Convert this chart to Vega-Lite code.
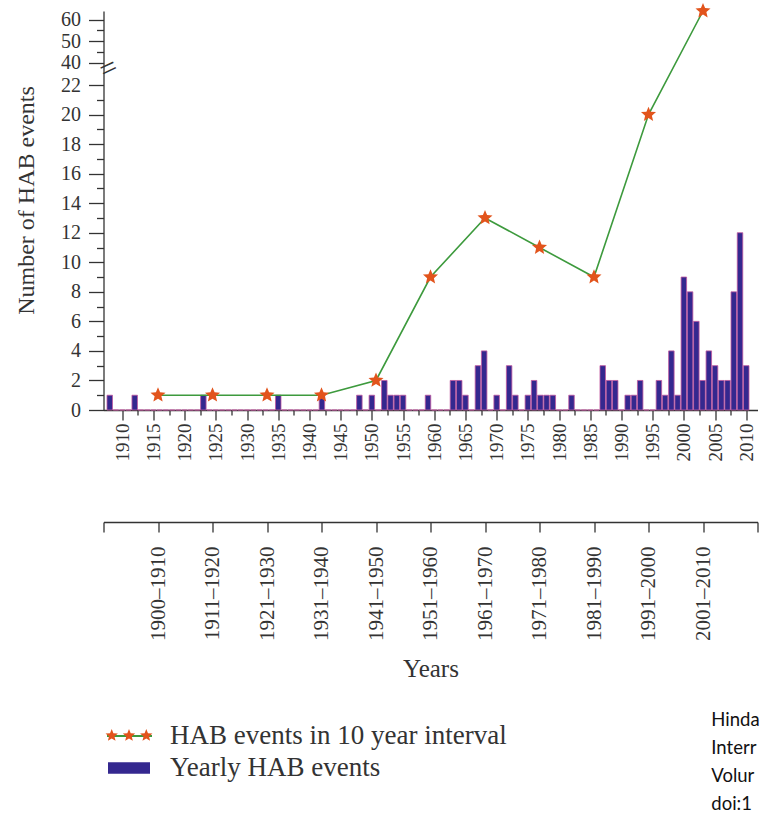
{
  "$schema": "https://vega.github.io/schema/vega-lite/v6.json",
  "width": 654,
  "height": 399,
  "autosize": "none",
  "padding": {"left": 103.5, "top": 11, "right": 2.5, "bottom": 403},
  "config": {
    "view": {"stroke": null},
    "font": "Liberation Serif",
    "axis": {"labelFont": "Liberation Serif", "titleFont": "Liberation Serif", "labelColor": "#333", "titleColor": "#333", "domainColor": "#333", "tickColor": "#333", "domainWidth": 1.3, "tickWidth": 1.3, "grid": false, "titleFontWeight": "normal", "labelOverlap": false, "labelFlush": false},
    "legend": {"labelFont": "Liberation Serif", "labelFontSize": 27, "labelColor": "#333", "labelLimit": 0, "title": null}
  },
  "datasets": {
    "yearly": [
      {"year":1908,"count":1},{"year":1909,"count":0},{"year":1910,"count":0},{"year":1911,"count":0},{"year":1912,"count":1},{"year":1913,"count":0},{"year":1914,"count":0},{"year":1915,"count":0},{"year":1916,"count":0},{"year":1917,"count":0},{"year":1918,"count":0},{"year":1919,"count":0},{"year":1920,"count":0},{"year":1921,"count":0},{"year":1922,"count":0},{"year":1923,"count":1},{"year":1924,"count":0},{"year":1925,"count":0},{"year":1926,"count":0},{"year":1927,"count":0},{"year":1928,"count":0},{"year":1929,"count":0},{"year":1930,"count":0},{"year":1931,"count":0},{"year":1932,"count":0},{"year":1933,"count":0},{"year":1934,"count":0},{"year":1935,"count":1},{"year":1936,"count":0},{"year":1937,"count":0},{"year":1938,"count":0},{"year":1939,"count":0},{"year":1940,"count":0},{"year":1941,"count":0},{"year":1942,"count":1},{"year":1943,"count":0},{"year":1944,"count":0},{"year":1945,"count":0},{"year":1946,"count":0},{"year":1947,"count":0},{"year":1948,"count":1},{"year":1949,"count":0},{"year":1950,"count":1},{"year":1951,"count":0},{"year":1952,"count":2},{"year":1953,"count":1},{"year":1954,"count":1},{"year":1955,"count":1},{"year":1956,"count":0},{"year":1957,"count":0},{"year":1958,"count":0},{"year":1959,"count":1},{"year":1960,"count":0},{"year":1961,"count":0},{"year":1962,"count":0},{"year":1963,"count":2},{"year":1964,"count":2},{"year":1965,"count":1},{"year":1966,"count":0},{"year":1967,"count":3},{"year":1968,"count":4},{"year":1969,"count":0},{"year":1970,"count":1},{"year":1971,"count":0},{"year":1972,"count":3},{"year":1973,"count":1},{"year":1974,"count":0},{"year":1975,"count":1},{"year":1976,"count":2},{"year":1977,"count":1},{"year":1978,"count":1},{"year":1979,"count":1},{"year":1980,"count":0},{"year":1981,"count":0},{"year":1982,"count":1},{"year":1983,"count":0},{"year":1984,"count":0},{"year":1985,"count":0},{"year":1986,"count":0},{"year":1987,"count":3},{"year":1988,"count":2},{"year":1989,"count":2},{"year":1990,"count":0},{"year":1991,"count":1},{"year":1992,"count":1},{"year":1993,"count":2},{"year":1994,"count":0},{"year":1995,"count":0},{"year":1996,"count":2},{"year":1997,"count":1},{"year":1998,"count":4},{"year":1999,"count":1},{"year":2000,"count":9},{"year":2001,"count":8},{"year":2002,"count":6},{"year":2003,"count":2},{"year":2004,"count":4},{"year":2005,"count":3},{"year":2006,"count":2},{"year":2007,"count":2},{"year":2008,"count":8},{"year":2009,"count":12},{"year":2010,"count":3}
    ],
    "decadal": [
      {"decade":"1900–1910","count":1},{"decade":"1911–1920","count":1},{"decade":"1921–1930","count":1},{"decade":"1931–1940","count":1},{"decade":"1941–1950","count":2},{"decade":"1951–1960","count":9},{"decade":"1961–1970","count":13},{"decade":"1971–1980","count":11},{"decade":"1981–1990","count":9},{"decade":"1991–2000","count":20},{"decade":"2001–2010","count":64}
    ]
  },
  "layer": [
    {
      "layer": [
        {
          "data": {"name": "yearly"},
          "mark": {"type": "bar", "width": 5.5, "stroke": "#c0589f", "strokeWidth": 0.8},
          "encoding": {
            "x": {"field": "year", "type": "quantitative",
              "scale": {"domain": [1907.8, 2011], "nice": false, "zero": false},
              "axis": {"orient": "bottom", "title": null, "format": "d", "tickCount": 500,
                "values": [1910,1912.5,1915,1917.5,1920,1922.5,1925,1927.5,1930,1932.5,1935,1937.5,1940,1942.5,1945,1947.5,1950,1952.5,1955,1957.5,1960,1962.5,1965,1967.5,1970,1972.5,1975,1977.5,1980,1982.5,1985,1987.5,1990,1992.5,1995,1997.5,2000,2002.5,2005,2007.5,2010],
                "labelExpr": "datum.value % 5 === 0 ? datum.label : ''",
                "tickSize": {"condition": {"test": "datum.value % 5 === 0", "value": 10}, "value": 5},
                "labelAngle": -90, "labelFontSize": 19, "labelPadding": 3, "labelOverlap": false, "labelFlush": false}},
            "y": {"field": "count", "type": "quantitative",
              "scale": {"domain": [0, 22, 40, 64], "range": [399, 74, 51.6, 0], "nice": false, "zero": false},
              "axis": {"title": "Number of HAB events", "titleFontSize": 24, "titlePadding": 22, "titleY": 189, "tickCount": 500, "format": "d",
                "values": [0,1,2,3,4,5,6,7,8,9,10,11,12,13,14,15,16,17,18,19,20,21,22,40,45,50,55,60],
                "labelExpr": "(datum.value <= 22 && datum.value % 2 === 0) || datum.value % 10 === 0 ? datum.label : ''",
                "tickSize": {"condition": {"test": "(datum.value <= 22 && datum.value % 2 === 0) || datum.value % 10 === 0", "value": 15}, "value": 7},
                "labelFontSize": 20, "labelPadding": 8, "labelOverlap": false, "labelFlush": false}},
            "color": {"datum": "Yearly HAB events", "scale": {"range": ["#34288f"]},
              "legend": {"orient": "none", "legendX": 4.5, "legendY": 736, "symbolType": "M-1,-0.27H1V0.27H-1Z", "symbolSize": 1764, "symbolStrokeWidth": 0, "labelOffset": 20}}
          }
        },
        {
          "data": {"values": [{}]},
          "mark": {"type": "text", "text": "=", "font": "Liberation Serif", "fontSize": 30, "angle": -25, "align": "center", "baseline": "middle", "color": "#333"},
          "encoding": {"x": {"datum": 1907.8}, "y": {"datum": 35}}
        },
        {
          "data": {"values": [{}]},
          "mark": {"type": "text", "text": ["Hinda", "Interr", "Volur", "doi:1"], "font": "Lato", "fontSize": 18.5, "align": "left", "baseline": "top", "lineHeight": 28, "color": "#111"},
          "encoding": {"x": {"datum": 2004.4}, "y": {"datum": -20.35}}
        }
      ]
    },
    {
      "data": {"name": "decadal"},
      "encoding": {
        "x": {"field": "decade", "type": "ordinal",
          "scale": {"type": "point", "domain": [" ", "1900–1910", "1911–1920", "1921–1930", "1931–1940", "1941–1950", "1951–1960", "1961–1970", "1971–1980", "1981–1990", "1991–2000", "2001–2010", "  "], "padding": 0},
          "axis": {"orient": "bottom", "offset": 112, "title": "Years", "titleFontSize": 25, "titlePadding": 16,
            "labelExpr": "trim(datum.label) === '' ? '' : datum.label",
            "labelAngle": -90, "labelFontSize": 21, "tickSize": 10, "labelPadding": 14, "domainWidth": 1.5, "labelOverlap": false}},
        "y": {"field": "count", "type": "quantitative", "title": "Number of HAB events"}
      },
      "layer": [
        {
          "mark": {"type": "line", "strokeWidth": 1.6},
          "encoding": {
            "stroke": {"datum": "HAB events in 10 year interval", "scale": {"range": ["#3d9a3d"]},
              "legend": {"orient": "none", "legendX": 2.5, "legendY": 701.5, "symbolType": "stroke", "symbolSize": 2025, "symbolStrokeWidth": 2, "labelOffset": 17}}
          }
        },
        {
          "mark": {"type": "point", "shape": "M0,-1L0.2645,-0.3641L0.9511,-0.309L0.428,0.1391L0.5878,0.809L0,0.45L-0.5878,0.809L-0.428,0.1391L-0.9511,-0.309L-0.2645,-0.3641Z", "size": 250, "filled": true, "opacity": 1, "strokeWidth": 0},
          "encoding": {
            "fill": {"datum": "HAB event markers", "scale": {"range": ["#e2541c"]},
              "legend": {"orient": "none", "legendX": 1.5, "legendY": 700.5, "labelExpr": "''", "symbolSize": 2304, "symbolStrokeWidth": 0, "symbolOpacity": 1,
                "symbolType": "M-0.72,-0.27L-0.6495,-0.0971L-0.4632,-0.0834L-0.6059,0.0371L-0.5613,0.2184L-0.72,0.12L-0.8787,0.2184L-0.8341,0.0371L-0.9768,-0.0834L-0.7905,-0.0971ZM0,-0.27L0.0705,-0.0971L0.2568,-0.0834L0.1141,0.0371L0.1587,0.2184L0,0.12L-0.1587,0.2184L-0.1141,0.0371L-0.2568,-0.0834L-0.0705,-0.0971ZM0.72,-0.27L0.7905,-0.0971L0.9768,-0.0834L0.8341,0.0371L0.8787,0.2184L0.72,0.12L0.5613,0.2184L0.6059,0.0371L0.4632,-0.0834L0.6495,-0.0971Z"}}
          }
        }
      ]
    }
  ],
  "resolve": {"scale": {"x": "independent"}, "axis": {"x": "independent"}}
}
